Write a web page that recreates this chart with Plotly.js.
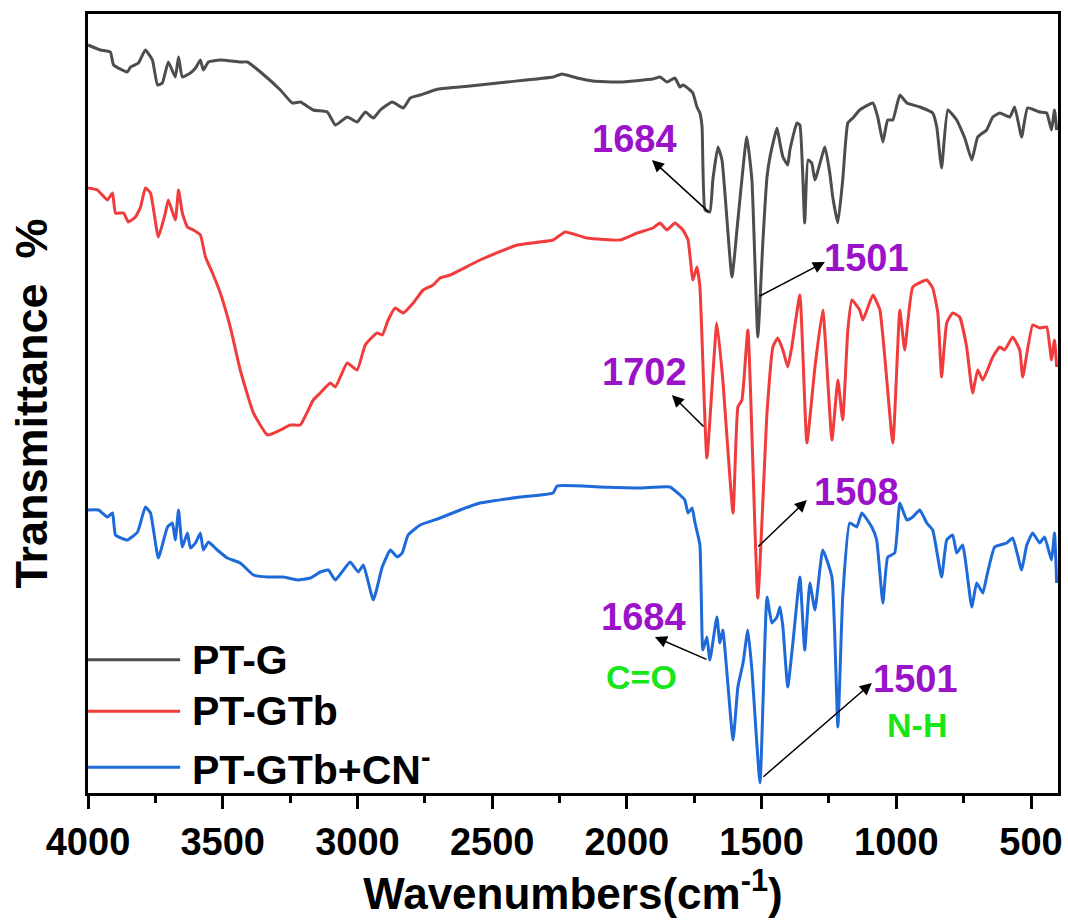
<!DOCTYPE html>
<html>
<head>
<meta charset="utf-8">
<script src="https://cdn.plot.ly/plotly-3.0.1.min.js"></script>
<style>html,body{margin:0;padding:0;background:#fff;}#chart{width:1068px;height:922px;}</style>
</head>
<body>
<div id="chart"></div>
<script>
// ---- data (wavenumber cm^-1, offset transmittance in arbitrary units) ----
const seriesNames = ["PT-G", "PT-GTb", "PT-GTb+CN<sup>-</sup>"];
const seriesColors = ["#4d4d4d", "#f03c3c", "#1e6ad8"];

const ptG_x = [4000,3954,3917,3905,3854,3842,3813,3787,3761,3742,3724,3702,3676,3664,3650,3620,3601,3583,3572,3553,3509,3435,3409,3360,3286,3242,3212,3164,3112,3082,3038,3001,2971,2941,2915,2871,2830,2804,2767,2700,2582,2445,2274,2241,2185,2126,2026,1903,1877,1851,1822,1803,1792,1766,1755,1740,1729,1721,1710,1692,1681,1662,1647,1610,1588,1555,1536,1514,1495,1480,1469,1443,1432,1421,1403,1395,1369,1358,1340,1328,1314,1302,1265,1247,1236,1217,1199,1180,1161,1136,1087,1069,1050,1032,1013,987,961,913,865,850,832,809,776,746,720,698,665,642,616,579,561,535,513,468,442,424,413,405];
const ptG_y = [748,743,741,728,721,726,730,743,733,708,710,731,716,736,716,720,725,733,723,731,733,731,731,721,703,690,691,683,681,668,676,671,681,675,683,691,685,695,698,704,707,711,716,719,715,712,711,714,716,711,715,706,708,703,700,686,680,666,583,581,613,646,633,516,573,656,613,456,553,616,636,665,650,636,628,643,670,668,570,633,630,613,646,620,596,570,613,670,675,683,690,676,651,673,673,698,690,686,680,666,625,683,673,655,633,656,663,676,680,676,686,656,685,681,680,663,683,663];

const ptGTb_x = [4000,3965,3928,3909,3898,3868,3850,3824,3805,3787,3768,3739,3713,3702,3676,3664,3650,3631,3609,3583,3564,3538,3509,3472,3435,3386,3334,3286,3249,3212,3164,3138,3101,3082,3038,3001,2971,2927,2908,2886,2860,2830,2793,2756,2719,2693,2656,2545,2407,2274,2229,2148,2026,1962,1903,1877,1851,1822,1792,1773,1755,1740,1729,1703,1666,1644,1606,1588,1573,1551,1514,1480,1458,1440,1421,1403,1388,1358,1332,1302,1273,1239,1217,1199,1180,1165,1136,1124,1087,1061,1013,987,969,939,887,865,846,832,813,791,765,739,717,698,679,642,616,598,568,542,531,494,468,442,424,413,405];
const ptGTb_y = [605,603,593,600,580,580,571,576,586,605,600,556,580,593,573,603,580,566,563,558,536,520,500,466,423,380,358,363,368,368,393,400,410,406,430,423,448,460,458,473,485,480,490,503,508,515,518,533,548,553,561,555,553,560,565,570,563,570,563,553,513,526,506,335,470,413,280,386,393,463,195,380,446,455,443,426,446,498,350,426,483,353,413,373,463,493,483,473,498,483,350,483,443,506,513,505,480,416,470,480,476,446,400,423,413,436,446,443,456,443,416,468,465,466,433,453,426];

const ptGTbCN_x = [4000,3961,3928,3909,3898,3854,3816,3787,3768,3739,3705,3687,3676,3664,3650,3631,3620,3601,3583,3572,3553,3520,3483,3435,3386,3334,3275,3223,3175,3138,3108,3082,3027,2997,2978,2941,2908,2878,2852,2834,2812,2767,2693,2619,2545,2396,2274,2259,2100,1951,1840,1803,1785,1773,1758,1747,1729,1718,1703,1692,1666,1655,1644,1606,1588,1569,1551,1536,1506,1480,1462,1443,1432,1421,1403,1384,1358,1340,1321,1302,1273,1239,1217,1199,1173,1147,1128,1091,1073,1050,1032,1006,987,961,939,913,887,865,832,813,791,776,754,720,702,679,665,635,590,568,535,516,494,468,450,424,413,405];
const ptGTbCN_y = [283,283,276,280,258,253,261,286,280,235,266,270,253,283,246,260,245,250,260,243,251,243,235,230,218,216,216,213,215,221,223,213,231,221,228,193,226,243,236,240,258,268,275,283,290,296,300,307,306,305,306,298,293,280,285,270,248,143,156,133,176,150,163,53,106,130,163,123,10,196,170,176,186,166,106,150,216,143,210,183,243,216,66,196,270,266,280,266,253,190,236,240,290,273,276,283,270,263,216,253,258,240,248,186,210,200,216,246,250,255,223,248,260,250,256,233,260,210];

const xTickVals = [4000,3500,3000,2500,2000,1500,1000,500];
const xTickText = ["4000","3500","3000","2500","2000","1500","1000","500"];

// peak labels: [text, textX, textY, arrowTailX, arrowTailY, arrowHeadX, arrowHeadY]
const peakLabels = [
  ["1684", 1970, 654, 1692, 580, 1907, 633],
  ["1501", 1110, 535, 1514, 496, 1265, 531],
  ["1702", 1933, 421, 1710, 365, 1833, 398],
  ["1508", 1147, 301, 1518, 245, 1332, 293],
  ["1684", 1940, 176, 1699, 133, 1896, 156],
  ["1501", 928, 114, 1499, 15, 1091, 110]
];
// bond labels: [text, x, y]
const bondLabels = [
  ["C=O", 1947, 116],
  ["N-H", 925, 68]
];

// ---- build ----
const SANS = "'Liberation Sans', Arial, sans-serif";

const xs = [ptG_x, ptGTb_x, ptGTbCN_x];
const ys = [ptG_y, ptGTb_y, ptGTbCN_y];
const traces = xs.map((x, i) => ({
  type: 'scatter', mode: 'lines', x: x, y: ys[i], name: seriesNames[i],
  line: {color: seriesColors[i], width: 3, shape: 'spline', smoothing: 0.4},
  showlegend: false, hoverinfo: 'skip'
}));

const annotations = [];
peakLabels.forEach(p => {
  annotations.push({x: p[1], y: p[2], xref: 'x', yref: 'y', text: p[0], showarrow: false,
    font: {family: SANS, size: 38, color: '#9b13c9', weight: 'bold'}});
  annotations.push({x: p[5], y: p[6], ax: p[3], ay: p[4], xref: 'x', yref: 'y', axref: 'x', ayref: 'y',
    text: '', showarrow: true, arrowhead: 2, arrowsize: 1.6, arrowwidth: 1.5, arrowcolor: '#000', standoff: 0});
});
bondLabels.forEach(b => {
  annotations.push({x: b[1], y: b[2], xref: 'x', yref: 'y', text: b[0], showarrow: false,
    font: {family: SANS, size: 34, color: '#18e618', weight: 'bold'}});
});

// manual legend
const shapes = [];
const legendY = [0.171, 0.105, 0.033];
seriesNames.forEach((n, i) => {
  shapes.push({type: 'line', xref: 'paper', yref: 'paper', x0: 0, x1: 0.095, y0: legendY[i], y1: legendY[i],
    line: {color: seriesColors[i], width: 3}});
  annotations.push({xref: 'paper', yref: 'paper', x: 0.105, y: legendY[i], xanchor: 'left', yanchor: 'middle',
    text: n, showarrow: false, font: {family: SANS, size: 41, color: '#000', weight: 'bold'}});
});

const layout = {
  width: 1068, height: 922,
  margin: {l: 87.5, r: 9.5, t: 14, b: 129},
  paper_bgcolor: '#fff', plot_bgcolor: '#fff',
  showlegend: false,
  xaxis: {
    range: [4000, 400], autorange: false,
    tickmode: 'array', tickvals: xTickVals, ticktext: xTickText,
    ticks: 'outside', ticklen: 13, tickwidth: 3, tickcolor: '#000',
    minor: {dtick: 250, tick0: 0, ticks: 'outside', ticklen: 7, tickwidth: 3, tickcolor: '#000'},
    showline: true, linewidth: 3, linecolor: '#000', mirror: true,
    showgrid: false, zeroline: false,
    ticklabeloverflow: 'allow',
    tickfont: {family: SANS, size: 38, color: '#000', weight: 'bold'},
    title: {text: 'Wavenumbers(cm<sup>-1</sup>)', font: {family: SANS, size: 44, color: '#000', weight: 'bold'}, standoff: 14}
  },
  yaxis: {
    range: [0, 779], autorange: false,
    showticklabels: false, ticks: '',
    showline: true, linewidth: 3, linecolor: '#000', mirror: true,
    showgrid: false, zeroline: false,
    title: {text: 'Transmittance  %', font: {family: SANS, size: 45, color: '#000', weight: 'bold'}, standoff: 24}
  },
  annotations: annotations,
  shapes: shapes
};

Plotly.newPlot('chart', traces, layout, {displayModeBar: false, staticPlot: true});
</script>
</body>
</html>
